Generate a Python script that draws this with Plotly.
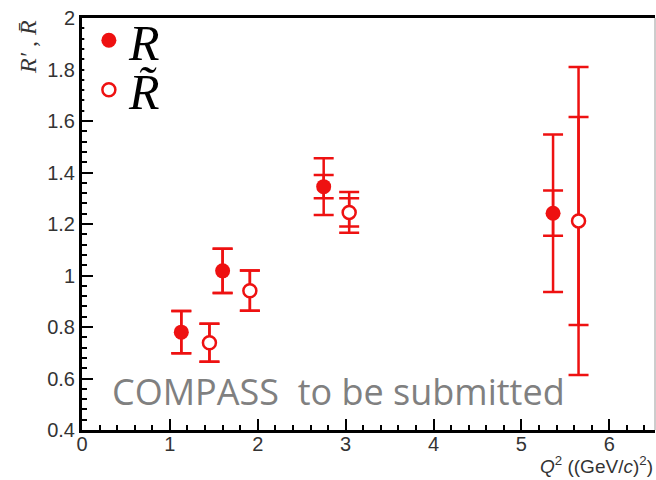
import plotly.graph_objects as go

# Q^2 values ((GeV/c)^2) and ratios
q2_r = [1.13, 1.60, 2.75, 5.36]
r_val = [0.78, 1.018, 1.345, 1.242]
r_stat = [0.082, 0.086, 0.045, 0.088]
r_tot = [0.082, 0.086, 0.110, 0.306]

q2_rt = [1.45, 1.91, 3.04, 5.65]
rt_val = [0.739, 0.941, 1.245, 1.212]
rt_stat = [0.074, 0.078, 0.055, 0.404]
rt_tot = [0.074, 0.078, 0.079, 0.598]

x_ticks = [0, 1, 2, 3, 4, 5, 6]
y_ticks = [0.4, 0.6, 0.8, 1.0, 1.2, 1.4, 1.6, 1.8, 2.0]
y_tick_text = ["0.4", "0.6", "0.8", "1", "1.2", "1.4", "1.6", "1.8", "2"]

RED = "#ee1111"

fig = go.Figure()


def err(arr, width=10, thick=2.5):
    return dict(type="data", array=arr, visible=True, color=RED,
                thickness=thick, width=width)


# total uncertainties (outer caps)
fig.add_trace(go.Scatter(x=q2_r, y=r_val, mode="markers",
                         marker=dict(size=1, color="rgba(0,0,0,0)"),
                         error_y=err(r_tot), showlegend=False, hoverinfo="skip"))
fig.add_trace(go.Scatter(x=q2_rt, y=rt_val, mode="markers",
                         marker=dict(size=1, color="rgba(0,0,0,0)"),
                         error_y=err(rt_tot), showlegend=False, hoverinfo="skip"))

# statistical uncertainties with markers
fig.add_trace(go.Scatter(x=q2_r, y=r_val, mode="markers", name="<i>R</i>",
                         legend="legend",
                         marker=dict(symbol="circle", size=15, color=RED,
                                     line=dict(width=0)),
                         error_y=err(r_stat)))
fig.add_trace(go.Scatter(x=q2_rt, y=rt_val, mode="markers", name="<i>R̃</i>",
                         legend="legend2",
                         marker=dict(symbol="circle", size=13, color="white",
                                     line=dict(width=2.5, color=RED)),
                         error_y=err(rt_stat)))

tick_font = dict(family="Liberation Sans, Arial, sans-serif", size=20, color="#333")
legend_font = dict(family="Liberation Serif, serif", size=50, color="black")

fig.update_xaxes(range=[0, 6.52], tickvals=x_ticks, ticks="inside", ticklen=11,
                 tickwidth=2, tickcolor="black", showline=True, linewidth=3,
                 linecolor="black", mirror=True, showgrid=False, zeroline=False,
                 tickfont=tick_font, ticklabelstandoff=-6,
                 minor=dict(dtick=0.2, ticks="inside", ticklen=5, tickwidth=1.5,
                            tickcolor="black", showgrid=False))
fig.update_yaxes(range=[0.4, 2.0], tickvals=y_ticks, ticktext=y_tick_text,
                 ticks="inside", ticklen=11, tickwidth=2, tickcolor="black",
                 showline=True, linewidth=3, linecolor="black", showgrid=False,
                 zeroline=False, tickfont=tick_font,
                 minor=dict(dtick=0.04, tick0=0.4, ticks="inside", ticklen=5,
                            tickwidth=1.5, tickcolor="black", showgrid=False))

fig.update_layout(
    width=656, height=480,
    margin=dict(l=82, r=1, t=12, b=50),
    paper_bgcolor="white", plot_bgcolor="white",
    legend=dict(x=0.012, y=0.946, xanchor="left", yanchor="middle",
                bgcolor="rgba(0,0,0,0)", borderwidth=0, font=legend_font),
    legend2=dict(x=0.012, y=0.826, xanchor="left", yanchor="middle",
                 bgcolor="rgba(0,0,0,0)", borderwidth=0, font=legend_font),
    shapes=[
        # thin right frame line
        dict(type="line", xref="paper", yref="paper", x0=1, x1=1, y0=0, y1=1,
             line=dict(color="#9a9a9a", width=1)),
        # blank patch behind the legend keys
        dict(type="rect", xref="paper", yref="paper", x0=0.004, x1=0.06,
             y0=0.76, y1=0.99, fillcolor="white", line=dict(width=0),
             layer="above"),
    ],
    annotations=[
        dict(text="<i>Q</i><sup>2</sup> ((GeV/<i>c</i>)<sup>2</sup>)",
             xref="paper", yref="paper", x=1.0, y=-0.085, xanchor="right",
             yanchor="middle", showarrow=False,
             font=dict(family="Liberation Sans, Arial, sans-serif", size=19,
                       color="#333")),
        dict(text="<i>R′</i> , <i>R̄</i>", textangle=-90,
             xref="paper", yref="paper", x=-0.094, y=0.93, xanchor="center",
             yanchor="middle", showarrow=False,
             font=dict(family="Liberation Serif, serif", size=24, color="#333")),
        dict(text="COMPASS&nbsp;&nbsp;to be submitted",
             xref="paper", yref="paper", x=0.4485, y=0.094, xanchor="center",
             yanchor="middle", showarrow=False,
             font=dict(family="Open Sans, sans-serif", size=36, color="#808080")),
    ],
)

fig.write_html("out.html")
